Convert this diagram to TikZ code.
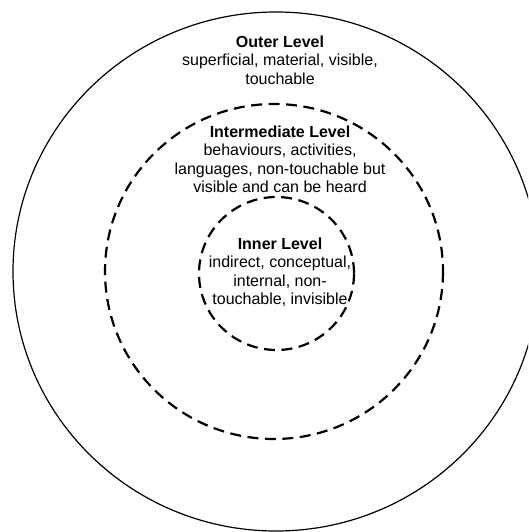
\documentclass[tikz,border=0pt]{standalone}
\usepackage{fontspec}
\setmainfont{Liberation Sans}
\begin{document}
\begin{tikzpicture}[x=1pt,y=-1pt,
  lvl/.style={font=\fontsize{16}{18.4}\selectfont, anchor=base, inner sep=0pt},
  lvltitle/.style={lvl, font=\fontsize{16}{18.4}\selectfont\bfseries},
  dashring/.style={draw, line width=2.2pt, dash pattern=on 11pt off 6.5pt},
  solidring/.style={draw, line width=1.2pt}]
\useasboundingbox (0,0) rectangle (528,532);
\begin{scope}
\clip (0,0) rectangle (528,532);
\path[solidring] (276,271.5) ellipse [x radius=263, y radius=259.5];
\end{scope}
\path[dashring] (274,271.5) ellipse [x radius=169, y radius=167.5];
\path[dashring] (276.5,273.5) ellipse [x radius=77.5, y radius=76.5];
% outer text
\node[lvltitle] (o1) at (280,47.3) {Outer Level};
\node[lvl] (o2) at (280,65.7) {superficial, material, visible,};
\node[lvl] (o3) at (280,84.1) {touchable};
% intermediate text
\node[lvltitle] (m1) at (280,137.3) {Intermediate Level};
\node[lvl] (m2) at (280,155.7) {behaviours, activities,};
\node[lvl] (m3) at (280,174.1) {languages, non-touchable but};
\node[lvl] (m4) at (280,192.5) {visible and can be heard};
% inner text
\node[lvltitle] (i1) at (280,249.5) {Inner Level};
\node[lvl] (i2) at (280,267.9) {indirect, conceptual,};
\node[lvl] (i3) at (280,286.3) {internal, non-};
\node[lvl] (i4) at (280,304.7) {touchable, invisible};
\end{tikzpicture}
\end{document}
